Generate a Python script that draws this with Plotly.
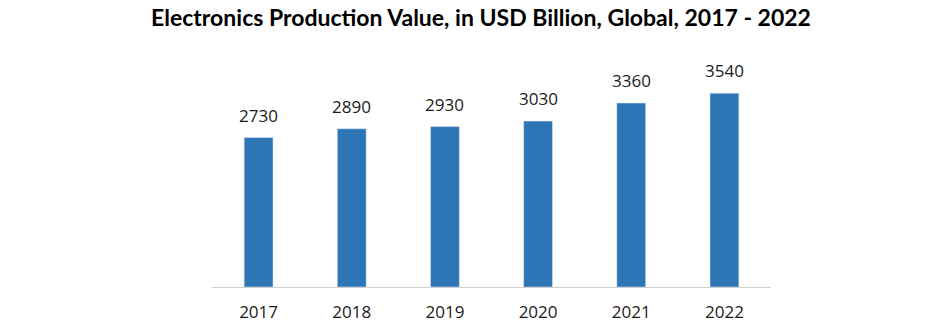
import plotly.graph_objects as go

years = ["2017", "2018", "2019", "2020", "2021", "2022"]
values = [2730, 2890, 2930, 3030, 3360, 3540]
bar_color = "#2E75B6"
title_text = "Electronics Production Value, in USD Billion, Global, 2017 - 2022"

W, H = 941, 327
pos = list(range(len(years)))
fig = go.Figure()
fig.add_trace(go.Bar(x=pos, y=values, marker_color=bar_color, width=0.31,
                     text=[str(v) for v in values], textposition="none", hoverinfo="skip"))

for p, v in zip(pos, values):
    fig.add_annotation(x=p, y=v, text=str(v), showarrow=False, yanchor="bottom",
                       yshift=9, font=dict(family="Open Sans", size=17, color="#1a1a1a"))

fig.update_layout(
    width=W, height=H,
    margin=dict(l=212, r=170, t=68, b=40),
    paper_bgcolor="white", plot_bgcolor="white",
    showlegend=False,
    title=dict(text=title_text, x=481 / W, xanchor="center", y=1 - 18 / H, yanchor="middle",
               font=dict(family="Lato", size=23, color="black", weight="bold")),
    xaxis=dict(range=[-0.5, len(years) - 0.5], tickmode="array", tickvals=pos, ticktext=years,
               showline=True, linecolor="#d0d0d0", linewidth=1, ticks="", zeroline=False,
               ticklabelstandoff=10, automargin=False,
               tickfont=dict(family="Open Sans", size=17, color="#1a1a1a"), showgrid=False),
    yaxis=dict(range=[0, 4000], visible=False, showgrid=False, zeroline=False, automargin=False),
)
fig.write_html("out.html")
